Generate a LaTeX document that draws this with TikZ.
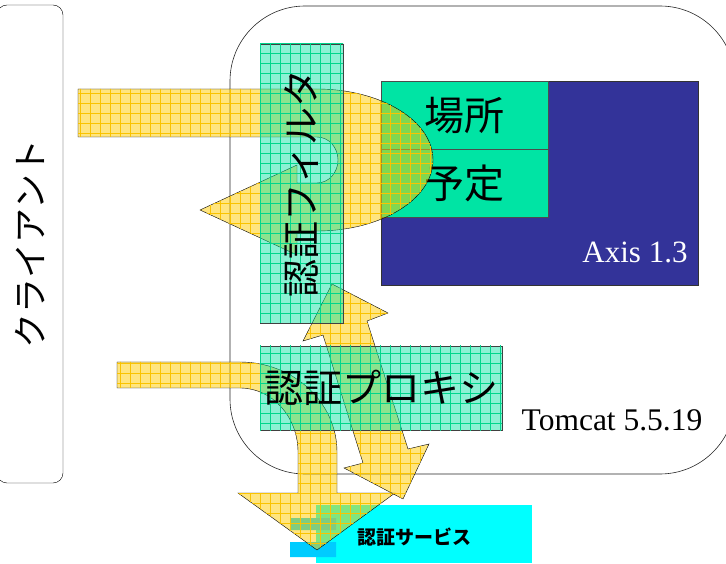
\documentclass[tikz,border=0pt]{standalone}
\usepackage{fontspec}
\setmainfont{Liberation Serif}
\newfontfamily\jp{Noto Sans CJK JP}
\usetikzlibrary{positioning,patterns.meta}
\definecolor{axisblue}{RGB}{51,51,153}
\definecolor{boxgreen}{RGB}{0,228,164}
\definecolor{mint}{RGB}{0,224,160}
\definecolor{mintline}{RGB}{0,214,140}
\definecolor{gold}{RGB}{255,204,0}
\definecolor{goldline}{RGB}{250,195,0}
\definecolor{svccyan}{RGB}{0,255,255}
\definecolor{svcblue}{RGB}{0,204,255}
\tikzset{
  hatchgreen/.style={draw=black!75, fill=mint, fill opacity=0.45, text opacity=1,
    postaction={pattern={Hatch[distance=10pt,line width=0.55pt]}, pattern color=mintline}},
  hatchyellow/.style={draw=black, fill=gold, fill opacity=0.5,
    postaction={pattern={Hatch[distance=10pt,line width=0.55pt]}, pattern color=goldline}},
  solidbox/.style={draw=black!70, fill=boxgreen, minimum width=167pt, minimum height=68pt,
    inner sep=0pt, font=\jp\fontsize{40}{40}\selectfont},
}
\begin{document}
\begin{tikzpicture}[x=1pt,y=1pt]
   \useasboundingbox (0,0) rectangle (726,563);
   \draw[black!85, line width=0.6pt, rounded corners=75pt] (230,89) rectangle (735,557);
   \node[draw, rounded corners=10pt, rotate=90, minimum width=478pt, minimum height=66pt,
     font=\jp\fontsize{35}{35}\selectfont] (client) at (30,319) {クライアント};
   \node[draw=black!80, fill=axisblue, minimum width=317pt, minimum height=204pt,
     anchor=north west] (axis) at (381,482) {};
   \node[solidbox, anchor=north west] (basho) at (axis.north west) {場所};
   \node[solidbox, below=0pt of basho] (yotei) {予定};
   \node[white, font=\fontsize{31}{31}\selectfont] (axislabel) at (635,311) {Axis 1.3};
   \node[font=\fontsize{31.5}{31.5}\selectfont] (tomcatlabel) at (612,143) {Tomcat 5.5.19};
   \fill[svccyan] (316,0) rectangle (532,58);
   \fill[svcblue] (290,33) rectangle (336,45) (290,6) rectangle (336,21);
   \node[font=\jp\bfseries\fontsize{19}{19}\selectfont] (svc) at (414,26) {認証サービス};
   % arrows
   \draw[hatchyellow] (78,474) -- (317,474) arc[start angle=90, end angle=-90, x radius=116, y radius=71]
   -- (297,332) -- (297,308) -- (200,353) -- (297,398) -- (297,380) -- (317,380)
   arc[start angle=-90, end angle=90, x radius=21, y radius=23] -- (78,426) -- cycle;
   \draw[hatchyellow] (117,201) -- (240,201) arc[start angle=90, end angle=0, x radius=97, y radius=90]
   -- (337,70) -- (395,70) -- (317,13) -- (238,70) -- (298,70) -- (298,111)
   arc[start angle=0, end angle=90, x radius=58, y radius=64] -- (117,175) -- cycle;
   \draw[hatchyellow] (332,279) -- (388,250) -- (367,242) -- (408,114) -- (429,119) -- (403,64)
   -- (344,95) -- (363,100) -- (323,228) -- (303,222) -- cycle;
   \node[hatchgreen, rotate=90, minimum width=279pt, minimum height=83pt,
     font=\jp\fontsize{38}{38}\selectfont] (filter) at (301.5,379.5) {認証フィルタ};
   \node[hatchgreen, minimum width=242pt, minimum height=84pt,
     font=\jp\fontsize{39}{39}\selectfont] (proxy) at (381,175) {認証プロキシ};
\end{tikzpicture}
\end{document}
